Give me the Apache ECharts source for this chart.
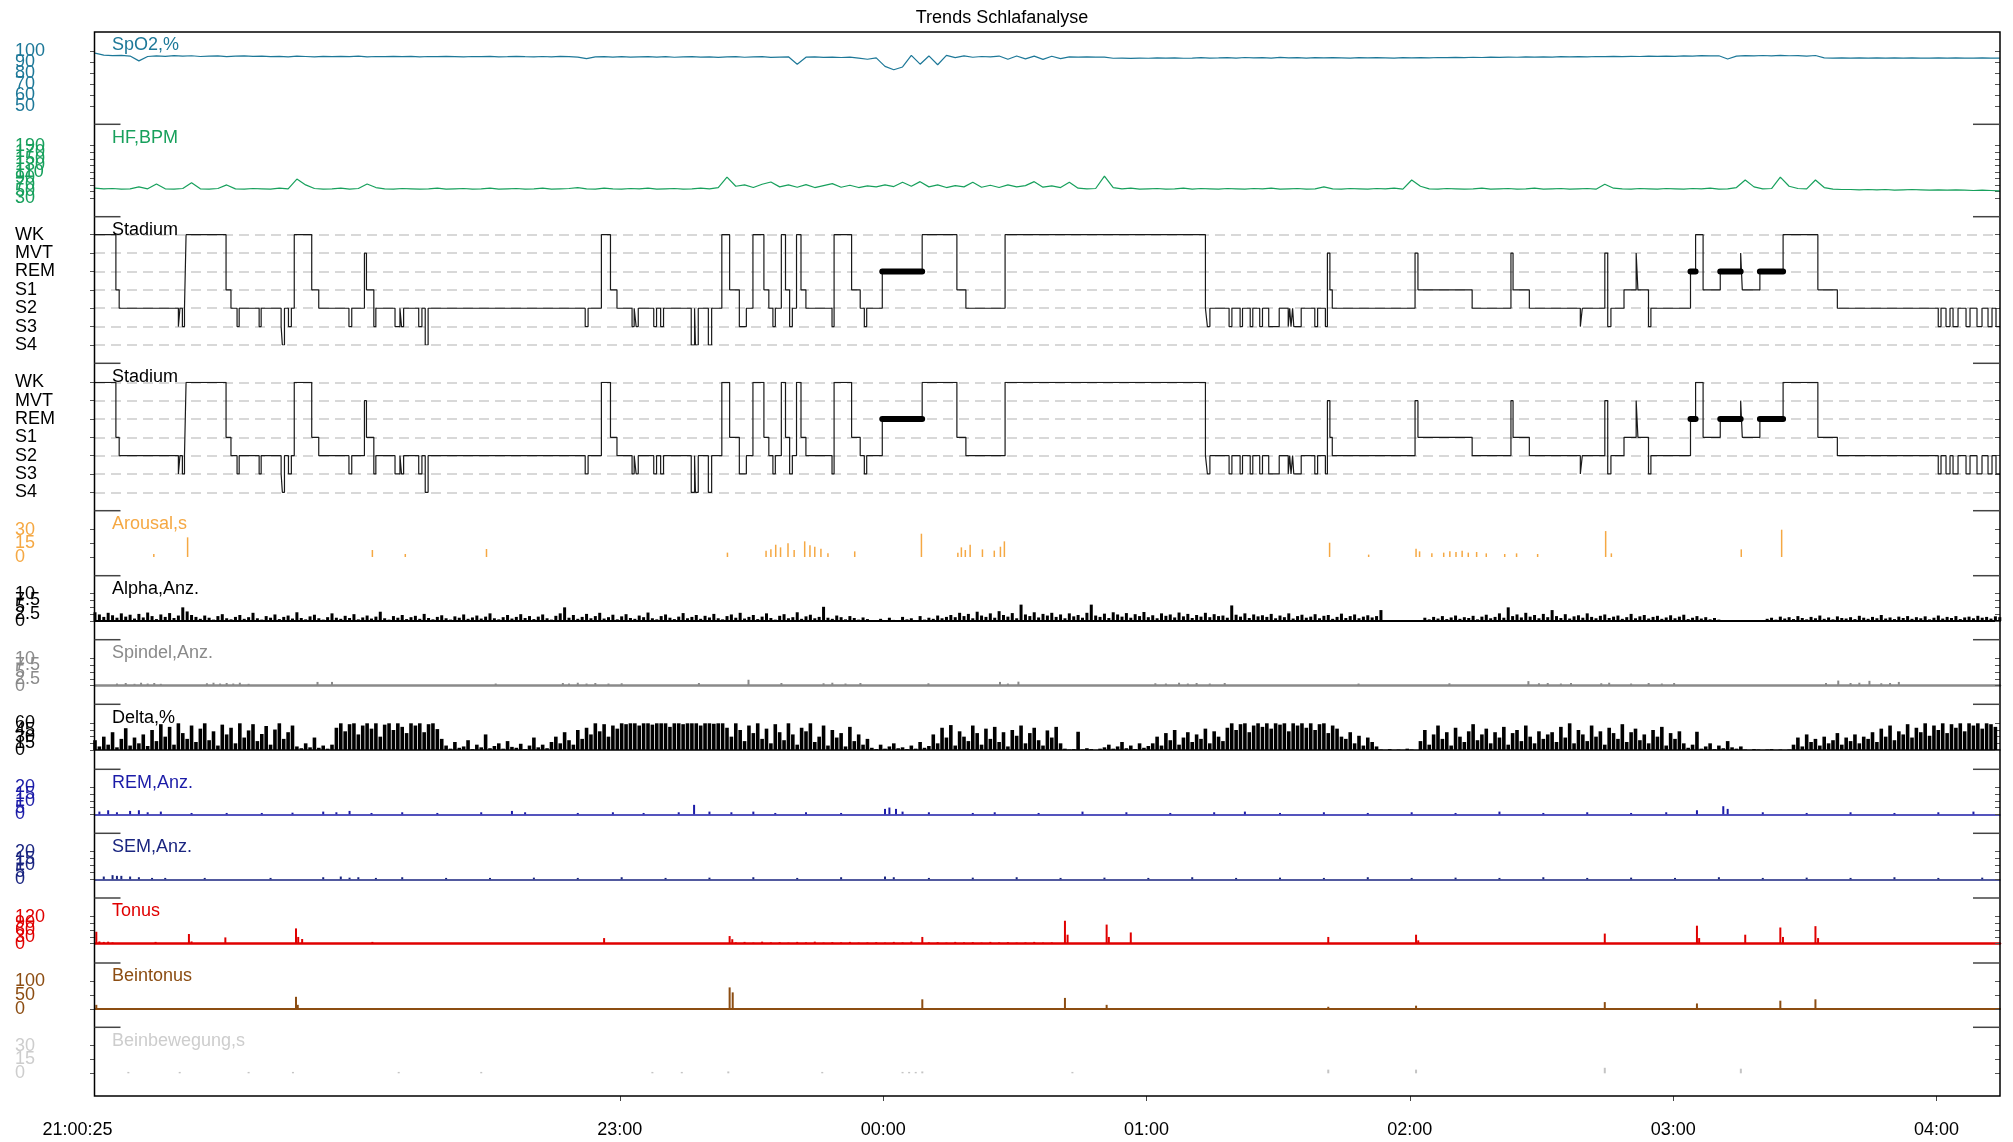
<!DOCTYPE html>
<html><head><meta charset="utf-8">
<script src="https://cdn.jsdelivr.net/npm/echarts@6/dist/echarts.min.js"></script>
<style>html,body{margin:0;padding:0;background:#fff}#c{width:2013px;height:1142px}</style>
</head><body><div id="c"></div>
<script>
// ---------------- DATA ----------------
const chartTitle = 'Trends Schlafanalyse';
const startTime = '21:00:25';
const totalMinutes = 434.05;
const xTickLabels = ['21:00:25','23:00','00:00','01:00','02:00','03:00','04:00'];
const stageNames = ['S4','S3','S2','S1','REM','MVT','WK'];

// SpO2 [%], one value every 2 minutes from start
const spo2Step = 2;
const spo2 = [
98,96.2,95.8,96.0,95.4,91.0,95.0,95.6,95.2,95.8,
95.3,95.7,95.0,95.4,95.6,94.9,95.3,95.6,95.1,95.4,
94.8,95.2,94.7,95.3,95.0,94.6,95.1,94.8,95.2,94.9,
95.3,94.6,95.0,94.8,95.2,94.9,95.1,94.7,95.0,94.8,
95.2,94.9,94.6,95.0,94.8,95.1,94.7,94.9,95.2,94.8,
94.6,95.0,94.7,95.1,94.8,94.5,93.0,94.6,94.9,94.5,
94.8,94.4,94.7,94.9,94.5,94.8,94.3,94.6,94.9,94.4,
94.7,94.2,94.6,94.9,94.3,94.6,94.8,94.2,94.5,94.7,
88.0,94.4,94.7,94.2,94.5,94.1,94.4,93.6,92.5,93.8,
86.0,83.0,85.5,96.0,88.0,95.5,87.5,96.0,94.0,95.6,
94.3,95.0,94.6,95.4,92.5,95.5,92.8,95.3,92.4,95.2,
93.0,94.6,94.5,94.6,94.5,94.4,93.4,93.5,93.3,93.6,
93.4,93.7,93.5,93.8,93.4,93.6,93.9,93.5,93.7,94.0,
93.6,94.1,93.7,94.0,93.5,94.2,93.8,94.0,93.6,93.9,
93.7,94.0,93.8,93.6,93.9,93.7,94.0,93.8,93.5,93.9,
93.7,94.0,93.8,94.1,93.9,94.2,94.0,94.3,94.1,94.4,
94.2,94.5,94.3,94.6,94.4,94.7,94.5,94.8,94.6,94.9,
94.7,95.0,94.8,95.1,94.9,95.2,95.0,95.3,95.1,95.4,
95.2,95.6,95.4,95.8,95.5,95.7,92.7,95.4,95.8,95.5,
95.9,95.6,96.0,95.7,95.8,95.4,95.9,93.8,93.6,93.7,
93.6,93.8,93.5,93.7,93.6,93.8,93.6,93.7,93.5,93.6,
93.7,93.6,93.8,93.5,93.6,93.7,93.6,93.5];

// Heart rate [BPM], one value every 2 minutes
const hfStep = 2;
const hf = [
60,58,59,57,58,64,58,73,58,57,
59,77,58,57,59,70,58,57,59,58,
57,60,58,88,70,59,57,58,60,57,
59,73,62,58,57,59,58,57,58,60,
57,58,59,57,58,60,57,58,59,57,
58,60,57,58,59,62,58,57,60,58,
57,59,58,60,57,58,59,57,58,60,
58,62,94,66,70,62,72,79,64,70,
63,71,62,68,74,63,69,62,67,64,
70,65,78,66,80,64,70,62,68,64,
78,63,69,62,70,64,68,80,63,67,
62,78,60,58,59,97,62,58,60,57,
58,59,57,58,60,57,59,58,57,59,
58,57,59,58,60,57,58,59,57,58,
64,58,57,59,58,57,59,58,60,57,
85,66,58,57,59,58,57,58,60,57,
58,59,57,58,60,57,58,59,57,58,
59,57,72,60,58,57,59,58,57,59,
58,57,59,58,60,57,58,62,85,64,
58,59,94,66,59,58,85,62,57,56,
56,55,56,55,56,54,55,56,55,54,
55,54,55,54,53,54,53,52];

// Hypnogram: minute (from start) at which each stage begins
const hypTimes = [0,4.76,5.51,19.00,19.36,19.91,20.39,20.75,29.86,30.98,32.37,32.85,37.40,37.86,42.41,42.69,43.17,44.08,44.74,45.40,
49.38,50.98,57.86,58.50,61.39,61.85,63.53,63.99,68.36,69.48,69.84,70.32,73.76,74.49,75.24,75.90,111.69,112.35,115.38,117.45,
118.93,122.37,122.85,123.30,123.78,127.31,127.95,128.88,129.54,135.85,136.61,136.81,137.45,139.75,140.50,142.82,144.60,146.81,148.41,149.91,
152.41,153.53,154.46,155.01,156.38,157.33,158.27,158.89,159.84,160.86,161.98,167.93,168.40,172.39,174.35,175.29,175.83,179.38,188.47,196.38,
198.43,207.36,253.01,253.46,254.03,258.40,259.04,260.91,261.46,263.21,263.80,265.38,266.01,267.43,269.82,271.87,272.21,272.51,272.87,273.14,
274.83,277.93,278.57,280.34,280.80,281.37,281.91,300.77,301.43,313.78,322.62,323.10,326.81,338.43,338.88,344.01,344.67,345.40,348.38,351.15,
351.55,353.96,354.51,363.53,364.69,366.40,370.31,374.96,375.33,379.34,384.63,392.55,396.99,419.98,420.61,421.75,422.66,423.35,424.49,426.31,
427.22,428.81,429.95,431.32,432.23,433.14,434.05];
const hypStages = ['WK','S1','S2','S3','S2','S3','S2','WK','S1','S2','S3','S2','S3','S2','S3','S4','S2','S3','S2','WK',
'S1','S2','S3','S2','MVT','S1','S3','S2','S3','S2','S3','S2','S3','S2','S4','S2','S3','S2','WK','S1',
'S2','S3','S2','S3','S2','S3','S2','S3','S2','S4','S2','S4','S2','S4','S2','WK','S1','S3','S2','WK',
'S1','S2','S3','S2','WK','S1','S3','S2','WK','S1','S2','S3','WK','S1','S2','S3','S2','REM','WK','S1',
'S2','WK','S2','S3','S2','S3','S2','S3','S2','S3','S2','S3','S2','S3','S2','S3','S2','S3','S2','S3',
'S2','S3','S2','S3','MVT','S1','S2','MVT','S1','S2','MVT','S1','S2','S3','S2','MVT','S3','S2','S1','MVT',
'S1','S3','S2','REM','WK','S1','REM','MVT','S1','REM','WK','S1','S2','S3','S2','S3','S2','S3','S2','S3',
'S2','S3','S2','S3','S2','S3','S3'];

// Arousal [s]: [minute, duration]
const arousal = [[13.4,3.3],[21.1,21.6],[63.2,7.7],[70.7,3.3],[89.2,8.8],[144.1,4.8],[152.9,7],[154,8.4],[155.1,13.5],[156.2,10.6],
[157.9,15],[159.3,7.7],[161.7,17.2],[162.9,12.8],[164,11.3],[165.4,9.1],[167,4],[173.1,6.2],[188.3,25.6],[196.6,4.8],
[197.4,10.6],[198.3,7.7],[199.4,13.5],[202.2,8.4],[204.9,7],[206.3,11.3],[207.2,17.2],[281.3,15.7],[290.2,2.6],[301,9.1],
[301.8,6.2],[304.6,4],[307.3,4.8],[308.7,6.2],[310.1,5.5],[311.5,7],[312.9,4.8],[314.8,5.5],[317,4],[321.2,3.3],
[323.9,4],[328.7,3.3],[344.2,28.5],[345.5,4],[375.1,8.4],[384.3,30.4]];

// Alpha count, one value per minute
const alphaStep = 1;
const alpha = [
3.2,2.4,1.5,3.0,2.1,1.2,2.8,1.6,2.3,0.9,2.6,1.3,3.1,1.8,0.7,2.4,1.5,2.9,1.1,2.0,5.0,3.5,2.2,
1.5,0.8,2.0,1.2,0.5,1.8,2.5,1.0,0.6,1.5,2.2,0.8,1.4,3.0,1.0,0.5,1.8,1.2,2.4,0.7,1.5,2.0,0.9,3.2,1.1,0.6,1.7,2.3,1.0,0.5,1.4,2.8,1.2,0.8,1.9,1.1,2.5,
0.6,1.3,2.0,0.9,1.6,3.4,1.0,0.5,1.8,1.2,2.2,0.7,1.4,1.9,0.8,2.6,1.1,0.6,1.5,2.1,1.0,0.5,1.7,1.2,2.4,0.8,1.3,2.0,0.9,1.6,2.8,1.0,0.6,1.4,2.2,0.9,1.5,2.5,1.1,1.8,0.7,
1.6,2.4,1.0,0.5,1.9,2.8,5.0,1.2,2.2,0.8,1.5,2.6,1.0,1.8,3.0,0.9,1.4,2.3,0.6,1.7,2.5,1.1,0.8,2.0,1.4,3.1,1.0,0.6,1.8,2.4,1.2,0.7,1.6,2.9,1.0,1.5,2.2,0.8,1.9,1.3,
2.6,1.0,0.6,1.8,2.4,1.2,3.0,0.9,1.5,2.2,0.7,1.6,2.8,1.1,0.5,1.9,2.5,1.0,1.4,3.2,0.8,1.7,2.3,1.0,1.5,5.2,1.2,0.8,2.0,1.4,0.6,1.8,1.1,0.5,1.3,0.7,
0.3,0.2,0.8,0.3,1.2,0.4,0.2,1.5,0.6,1.0,0.3,1.8,0.5,1.2,0.8,2.0,1.0,1.5,
2.2,1.4,3.0,1.8,2.6,1.0,3.4,2.0,1.5,2.8,1.2,3.6,2.2,1.6,2.9,1.0,6.0,2.4,1.8,3.2,1.3,2.6,2.0,3.0,1.5,2.4,1.0,2.8,1.7,2.2,1.2,3.0,6.0,2.0,1.5,2.7,
1.1,3.2,2.4,1.6,2.9,1.2,2.5,1.8,3.3,1.4,2.1,1.0,2.8,1.9,2.4,1.3,3.1,1.7,2.6,1.1,2.2,1.6,3.0,1.4,2.5,1.8,2.0,1.2,5.7,2.3,1.6,2.8,1.1,2.4,1.7,2.1,
1.5,2.6,1.0,2.0,1.4,2.8,0.9,1.8,2.3,1.2,1.6,2.5,1.0,1.9,2.2,0.8,1.5,2.7,1.1,1.8,2.4,1.0,1.6,2.1,1.3,1.8,
4.0,0.1,0,0.1,0,0,0.1,0,0,0.2,
1.2,0.6,1.5,0.9,1.8,0.7,1.3,2.0,0.8,1.4,1.1,1.9,0.6,1.6,2.3,1.0,1.5,2.8,1.2,5.0,1.8,2.4,1.3,3.0,1.6,2.2,1.0,2.6,1.4,4.0,1.8,1.1,2.5,0.9,
1.7,2.1,1.2,2.8,1.5,1.0,1.9,2.4,1.1,1.6,2.0,0.8,1.4,2.6,1.0,1.7,2.2,0.9,1.5,1.9,0.8,1.3,2.1,1.0,1.6,2.3,0.7,1.2,1.8,0.9,1.4,0.6,1.1,0.5,
0.1,0,0.2,0,0,0.1,0,0.3,0,0.2,
0.8,1.2,0.5,1.6,0.9,1.4,0.7,1.8,1.1,0.6,1.5,1.0,2.0,0.8,1.3,0.6,1.7,1.1,0.9,1.4,0.7,1.9,1.2,0.8,1.5,1.0,2.2,0.9,1.3,0.7,1.6,1.1,1.8,0.8,1.4,1.0,1.7,0.6,1.2,2.0,
0.9,1.5,1.1,1.8,0.7,1.3,1.6,1.0,1.9,1.2,1.5,0.9,1.7,1.4];

// Spindle count: [minute, count]
const spindel = [[5,0.8],[7,1],[9,0.7],[10.5,1.1],[12,0.8],[13.5,1],[15,0.7],[25.5,0.9],[27,1.1],[28.5,0.8],[30,1],[31.5,0.8],[33,1.1],[35,0.7],
[50.7,1.4],[54,1.4],[91.3,0.8],[106.6,1],[108,0.8],[110,1.1],[112,0.8],[114,1],[117,0.8],[120,0.9],[137.6,1],[148.9,2.2],[156.4,1],
[166,0.9],[168,1.1],[171,0.8],[174.4,1],[189.9,0.9],[206.2,1.4],[208,0.8],[210.4,1.5],[241.6,0.9],[244,0.8],[247,1.1],[249,0.8],[251,1],[254,0.8],[257.4,1],
[287.9,0.8],[308.6,0.9],[326.6,1.7],[329,0.9],[331,1],[334,0.8],[336.3,1],[343.2,0.9],[345,1.1],[350,0.8],[354,1],[357,0.8],[359.8,1],
[394.4,1],[397.2,1.9],[400,1],[402,1.1],[404.3,1.8],[407,0.9],[409,1],[411,1.4]];

// Delta [%], one value per minute
const deltaStep = 1;
const delta = [
22,8,30,12,40,6,25,49,10,28,15,35,9,
45,20,58,30,52,12,60,38,25,55,18,48,60,22,42,10,57,35,50,15,60,28,44,58,20,36,54,12,46,60,25,40,55,
8,4,15,6,28,5,10,3,12,
50,60,42,58,60,35,55,60,48,60,30,57,60,45,60,52,38,60,55,60,40,58,60,47,25,
10,3,18,5,8,22,2,12,6,35,4,9,15,3,20,7,5,14,2,10,28,6,12,4,18,
30,15,40,22,12,45,25,
50,35,60,42,58,30,55,48,
60,58,60,60,55,60,60,57,60,60,60,52,60,60,58,60,60,60,55,60,60,59,60,60,50,
30,60,45,20,55,38,60,25,48,15,58,40,22,60,35,12,50,42,60,18,30,55,10,45,28,38,8,52,20,35,12,25,
5,2,12,3,8,15,4,6,2,10,3,18,5,9,
35,15,50,28,56,10,42,30,20,55,38,12,48,25,52,18,40,8,45,32,55,15,38,50,22,10,44,28,52,15,
3,1,2,41,1,4,2,0,3,
6,12,3,8,18,4,10,2,15,5,9,
15,30,10,38,22,45,12,28,40,18,35,25,48,15,42,30,20,
50,60,45,58,60,40,55,60,52,60,48,60,57,60,42,60,55,60,50,60,45,58,60,38,55,48,30,
25,40,15,32,10,28,18,8,
1,0,2,0,1,0,3,1,0,
20,45,12,35,55,25,40,10,50,30,18,42,58,22,35,48,15,40,28,52,12,38,45,20,55,30,15,42,25,35,
40,18,52,28,60,15,45,35,20,55,30,42,12,50,38,25,58,18,40,48,22,35,15,45,30,52,10,38,25,42,15,
5,12,41,3,8,15,2,10,4,20,6,3,8,
1,0,2,1,0,1,2,0,1,0,1,
12,28,8,35,18,25,10,30,15,22,38,12,28,20,35,15,30,
25,40,18,48,30,55,22,42,35,58,28,50,40,60,32,55,45,60,38,58,50,60,42,60,55,60,48,60,58,52];

// REM count: [minute, count]
const remAnz = [[1,2],[3,3],[5,1.5],[8,2.5],[10,3],[12,1.5],[15,2],[22,1],[30,1],[38,1],[45,1.2],[52,2],[55,1.5],[58,2.5],[63,1],[70,1.5],[78,1],
[88,1.5],[95,2.5],[98,1.5],[110,1],[118,1.5],[125,1],[133,1.5],[136.5,7],[140,2],[145,1.5],[150,2],[155,1],[162,1.5],[170,1],[180,4],[181,5],
[182.5,4],[184,2],[190,1.5],[200,1],[205,1.5],[215,1],[225,2],[235,1.5],[245,1],[255,1.5],[262,2],[270,1],[280,1.5],[290,1],[300,1.5],
[310,1],[320,2],[330,1],[340,1.5],[350,1],[358,1.5],[365,3],[371,6],[372,4],[380,1.5],[390,1],[400,1.5],[410,1],[420,1.5],[428,2]];

// SEM count: [minute, count]
const semAnz = [[2,2],[4,3],[5,2.5],[6,2.5],[8,2],[10,1.5],[13,1],[16,1],[25,1],[40,1],[52,1.5],[56,2],[58,1.2],[60,1.5],[64,1],[70,1.5],[80,1],
[90,1],[100,1.2],[110,1],[120,1.5],[130,1],[140,1.2],[150,1.5],[160,1],[170,1.5],[180,2],[182,1.5],[190,1],[200,1.2],[210,1.5],[220,1],
[230,1.2],[240,1],[250,1.5],[260,1],[270,1.2],[280,1],[290,1.5],[300,1],[310,1.2],[320,1],[330,1.5],[340,1],[350,1.2],[360,1],[370,1.5],
[380,1],[390,1.2],[400,1],[410,1.5],[420,1],[430,1.2]];

// Tonus: [minute, value]
const tonus = [[0.3,53],[1,10],[2,8],[3,9],[4,6],[13.8,8],[21.4,43],[22,10],[29.7,28],[45.8,68],[46.3,30],[47.2,21],[63.2,8],[116,25],[144.6,34],[145.2,20],
[146,6],[148,8],[150,5],[152,9],[154,6],[156,7],[158,5],[160,8],[162,6],[164,9],[166,5],[168,7],[170,6],[172,8],[174,5],[176,6],[178,7],[180,5],
[182,8],[184,6],[186,9],[188.5,30],[190,6],[192,7],[194,5],[196,8],[198,6],[200,7],[202,5],[204,8],[206,6],[208,7],[210,5],[212,6],[214,8],[216,5],[218,6],
[221,102],[221.6,40],[230.5,85],[231,30],[236,50],[281,30],[301,40],[301.5,15],[344,45],[365,80],[365.5,25],[376,40],[384,72],[384.6,30],[392,78],[392.6,25]];

// Beintonus: [minute, value]
const beintonus = [[0.3,15],[45.8,44],[46.2,15],[144.6,78],[145.3,60],[188.5,35],[221,40],[230.5,15],[281,8],[301,12],[344,25],[365,20],[384,30],[392,35]];

// Beinbewegung [s]: [minute, value]
const beinbew = [[7.6,1.5],[19.3,1.5],[35,1.5],[45.1,1.5],[69.2,1.5],[88,1.5],[127,1.5],[133.7,1.5],[144.3,2],[165.7,1.5],[184,1.5],[185.5,1.5],
[187,1.5],[188.5,2],[222.7,1.5],[281,4],[301,4],[344,6],[375,5]];

// ---------------- LAYOUT ----------------
const FONT = '"Liberation Sans", Arial, Helvetica, sans-serif';
const L = 94.5, R = 2000, TOP = 32, BOT = 1096;
const panels = [
 {label:'SpO2,%', color:'#1d7898', pTop:32,    aTop:51,    aH:55,   min:50, max:100, itv:10},
 {label:'HF,BPM', color:'#17a05c', pTop:124.3, aTop:145.7, aH:52.3, min:30, max:190, itv:20},
 {label:'Stadium', color:'#000',   pTop:216.7, aTop:234.7, aH:110.3,min:0, max:6, itv:1, stage:true},
 {label:'Stadium', color:'#000',   pTop:363.3, aTop:382.3, aH:110,  min:0, max:6, itv:1, stage:true},
 {label:'Arousal,s', color:'#f5a843', pTop:510.7, aTop:529.7, aH:27.3, min:0, max:30, itv:15},
 {label:'Alpha,Anz.', color:'#000', pTop:575.7, aTop:593.7, aH:27.3, min:0, max:10, itv:2.5, base:2},
 {label:'Spindel,Anz.', color:'#8a8a8a', pTop:639.7, aTop:658.7, aH:27, min:0, max:10, itv:2.5, base:2.5},
 {label:'Delta,%', color:'#000', pTop:704.3, aTop:723.3, aH:26.7, min:0, max:60, itv:15, base:1.5},
 {label:'REM,Anz.', color:'#1c1ca8', pTop:769.3, aTop:787.3, aH:27, min:0, max:20, itv:5, base:1.5},
 {label:'SEM,Anz.', color:'#1a2580', pTop:833.3, aTop:851.7, aH:27.6, min:0, max:20, itv:5, base:1.5},
 {label:'Tonus', color:'#e00000', pTop:898, aTop:916.7, aH:27, min:0, max:120, itv:30, base:2.5},
 {label:'Beintonus', color:'#8c4d12', pTop:963, aTop:981.3, aH:27.7, min:0, max:100, itv:50, base:2},
 {label:'Beinbewegung,s', color:'#cdcdcd', pTop:1027.3, aTop:1045.7, aH:27.6, min:0, max:30, itv:15}
];

function toOffset(lbl){
  const p = lbl.split(':').map(Number);
  const s0 = startTime.split(':').map(Number);
  let sec = p[0]*3600 + p[1]*60 + (p[2]||0);
  const st = s0[0]*3600 + s0[1]*60 + (s0[2]||0);
  if (sec < st) sec += 86400;
  return (sec - st)/60;
}
const tickOffsets = xTickLabels.map(toOffset);

const grid = [], xAxis = [], yAxis = [], series = [];
const extraY = [];
panels.forEach((p, i) => {
  const ticks = [];
  for (let v = p.min; v <= p.max + 1e-9; v += p.itv) ticks.push(+v.toFixed(4));
  grid.push({left:95, right:13, top:p.aTop, height:p.aH, outerBoundsMode:'none', containLabel:false});
  xAxis.push({type:'value', gridIndex:i, min:0, max:totalMinutes,
    show: !!p.base,
    axisLine:{show:!!p.base, onZero:false, lineStyle:{color:p.color, width:p.base||1}},
    axisTick:{show:false}, axisLabel:{show:false}, splitLine:{show:false}});
  // main left axis: ticks (+ split lines); labels are drawn by the label axes below
  yAxis.push({type:'value', gridIndex:i, position:'left', offset:0, min:p.min, max:p.max, interval:p.itv,
    axisLine:{show:false},
    axisTick:{show:true, length:5, lineStyle:{color:'#555', width:1}},
    axisLabel:{show:false},
    splitLine: p.stage ? {show:true, lineStyle:{color:'#cccccc', width:1.5, type:[10,6]}} : {show:false}});
  yAxis.push({type:'value', gridIndex:i, position:'right', offset:0, min:p.min, max:p.max, interval:p.itv,
    axisLine:{show:false}, axisTick:{show:true, inside:true, length:5, lineStyle:{color:'#555', width:1}},
    axisLabel:{show:false}, splitLine:{show:false}});
  // label axes: overlapping tick labels split into groups so that none is dropped
  const spacing = p.aH / (ticks.length - 1);
  const k = Math.min(ticks.length, Math.ceil(21 / spacing));
  for (let g = 0; g < k; g++) {
    const vals = ticks.filter((_, j) => j % k === g);
    extraY.push({type:'value', gridIndex:i, position:'left', offset:0, min:p.min, max:p.max, interval:p.itv,
      axisLine:{show:false}, axisTick:{show:false}, splitLine:{show:false},
      axisLabel:{show:true, customValues:vals, showMinLabel:true, showMaxLabel:true, hideOverlap:false,
        align:'left', margin:80, color: p.stage ? '#000' : p.color, fontSize:18, fontFamily:FONT,
        formatter: p.stage ? (v => stageNames[Math.round(v)] || '') : (v => String(v))}});
  }
});
// x axis carrier grid
const XG = panels.length;
grid.push({left:95, right:13, top:TOP, height:BOT-TOP, outerBoundsMode:'none', containLabel:false});
xAxis.push({type:'value', gridIndex:XG, min:0, max:totalMinutes, position:'bottom',
  axisLine:{show:false},
  axisTick:{show:true, length:5, lineStyle:{color:'#444'}, customValues: tickOffsets.slice(1)},
  axisLabel:{show:true, margin:25, fontSize:18, color:'#000', fontFamily:FONT, hideOverlap:false,
    customValues: tickOffsets,
    formatter: v => { let k = tickOffsets.findIndex(t => Math.abs(t - v) < 0.01);
      if (k < 0) return ''; return k === 0 ? '{a|' + xTickLabels[0] + '}' : xTickLabels[k]; },
    rich:{a:{fontSize:18, color:'#000', fontFamily:FONT, padding:[0,35,0,0]}}},
  splitLine:{show:false}});
yAxis.push({type:'value', gridIndex:XG, position:'left', show:false, min:0, max:1});
extraY.forEach(a => yAxis.push(a));

const lineSeries = (i, arr, step, color) => ({type:'line', xAxisIndex:i, yAxisIndex:2*i, symbol:'none',
  data: arr.map((v, k) => [k*step, v]), lineStyle:{color, width:1.2}, silent:true});
const barSeries = (i, arr, color, w) => ({type:'bar', xAxisIndex:i, yAxisIndex:2*i, barWidth:w,
  data: arr, itemStyle:{color}, silent:true});

series.push(lineSeries(0, spo2, spo2Step, panels[0].color));
series.push(lineSeries(1, hf, hfStep, panels[1].color));
[2,3].forEach(i => {
  // explicit step path: vertical jump at every stage change
  const pts = [];
  hypTimes.forEach((t, k) => {
    const lv = stageNames.indexOf(hypStages[k]);
    if (k > 0) pts.push([t, stageNames.indexOf(hypStages[k-1])]);
    pts.push([t, lv]);
  });
  series.push({type:'line', xAxisIndex:i, yAxisIndex:2*i, symbol:'none', data:pts,
    lineStyle:{color:'#1a1a1a', width:1.2}, silent:true});
  const rem = [];
  hypStages.forEach((s, k) => { if (s === 'REM' && k+1 < hypTimes.length) {
    rem.push([hypTimes[k], 4], [hypTimes[k+1], 4], [hypTimes[k+1], '-']); } });
  series.push({type:'line', xAxisIndex:i, yAxisIndex:2*i, symbol:'none', data:rem, connectNulls:false,
    lineStyle:{color:'#000', width:6, cap:'round'}, silent:true, z:5});
});
series.push(barSeries(4, arousal, panels[4].color, 1.5));
series.push(barSeries(5, alpha.map((v,k)=>[k*alphaStep, v]), '#000', 3));
series.push(barSeries(6, spindel, panels[6].color, 2));
series.push(barSeries(7, delta.map((v,k)=>[k*deltaStep, v]), '#000', 3.6));
series.push(barSeries(8, remAnz, panels[8].color, 2));
series.push(barSeries(9, semAnz, panels[9].color, 2));
series.push(barSeries(10, tonus, panels[10].color, 2));
series.push(barSeries(11, beintonus, panels[11].color, 2));
series.push(barSeries(12, beinbew, '#c4c4c4', 2));

// graphics: frame, separators, titles
const graphic = [];
graphic.push({type:'rect', shape:{x:L, y:TOP, width:R-L, height:BOT-TOP}, style:{fill:'none', stroke:'#000', lineWidth:1.5}, z:100, silent:true});
panels.forEach((p, i) => {
  if (i > 0) {
    graphic.push({type:'line', shape:{x1:L, y1:p.pTop, x2:L+26, y2:p.pTop}, style:{stroke:'#444', lineWidth:1.5}, z:100, silent:true});
    graphic.push({type:'line', shape:{x1:R-27, y1:p.pTop, x2:R, y2:p.pTop}, style:{stroke:'#444', lineWidth:1.5}, z:100, silent:true});
  }
  graphic.push({type:'text', x:112, y:p.pTop+4.5, silent:true, z:100,
    style:{text:p.label, fill:p.color, font:'18px ' + FONT, textAlign:'left', textVerticalAlign:'top', align:'left', verticalAlign:'top'}});
});
graphic.push({type:'text', x:1002, y:9, silent:true, z:100,
  style:{text:chartTitle, fill:'#000', font:'18px ' + FONT, textAlign:'center', textVerticalAlign:'top', align:'center', verticalAlign:'top'}});

const chart = echarts.init(document.getElementById('c'), null, {renderer:'canvas'});
chart.setOption({animation:false, backgroundColor:'#fff', grid, xAxis, yAxis, series, graphic});
</script></body></html>
